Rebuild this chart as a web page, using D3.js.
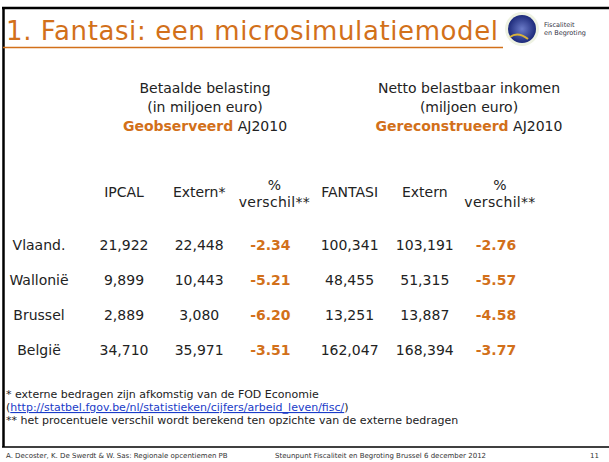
<!DOCTYPE html>
<html>
<head>
<meta charset="utf-8">
<title>Fantasi: een microsimulatiemodel</title>
<script src="https://cdn.jsdelivr.net/npm/d3@7"></script>
<style>
  body { margin: 0; background: #fff; }
  svg { display: block; font-family: "DejaVu Sans", Verdana, sans-serif; }
</style>
</head>
<body>
<svg width="609" height="462"></svg>
<script>
var regions = ["Vlaand.", "Wallonië", "Brussel", "België"]
var ipcal = [21922, 9899, 2889, 34710]
var externBel = [22448, 10443, 3080, 35971]
var verschilBel = [-2.34, -5.21, -6.20, -3.51]
var fantasi = [100341, 48455, 13251, 162047]
var externInk = [103191, 51315, 13887, 168394]
var verschilInk = [-2.76, -5.57, -4.58, -3.77]
var colLabels = ["IPCAL", "Extern*", "% verschil**", "FANTASI", "Extern", "% verschil**"]

var orange = "#d2701a"
  , ink = "#222"
  , svg = d3.select("svg")

// frame
svg.append("line").attr("x1", 2).attr("x2", 609).attr("y1", 8).attr("y2", 8)
  .attr("stroke", "#000").attr("stroke-width", 2.5)
svg.append("line").attr("x1", 3.5).attr("x2", 3.5).attr("y1", 7).attr("y2", 447)
  .attr("stroke", "#000").attr("stroke-width", 2.5)
svg.append("line").attr("x1", 2).attr("x2", 609).attr("y1", 447).attr("y2", 447)
  .attr("stroke", "#000").attr("stroke-width", 1.5)

svg.append("text").attr("x", 6).attr("y", 40)
  .attr("font-size", 26).attr("fill", orange)
  .attr("textLength", 492).attr("lengthAdjust", "spacing")
  .text("1. Fantasi: een microsimulatiemodel")
svg.append("line").attr("x1", 3).attr("x2", 503).attr("y1", 47.5).attr("y2", 47.5)
  .attr("stroke", orange).attr("stroke-width", 1.5)

// logo
var logo = svg.append("g").attr("transform", "translate(522,29)")
var grad = svg.append("defs").append("radialGradient").attr("id", "lg")
grad.append("stop").attr("offset", "0%").attr("stop-color", "#6b7bc8")
grad.append("stop").attr("offset", "100%").attr("stop-color", "#1d2a7a")
logo.append("circle").attr("r", 17).attr("fill", "#eef2e2")
logo.append("circle").attr("r", 14).attr("fill", "url(#lg)")
logo.append("path").attr("d", "M-12,8 Q-4,2 6,10").attr("stroke", "#d9b23a")
  .attr("stroke-width", 2).attr("fill", "none")
logo.append("text").attr("x", 22).attr("y", -2).attr("font-size", 6.5)
  .attr("fill", "#334").text("Fiscaliteit")
logo.append("text").attr("x", 22).attr("y", 6).attr("font-size", 6.5)
  .attr("fill", "#334").text("en Begroting")

// group headers
function header(cx, l1, l2, bold) {
  var g = svg.append("g").attr("text-anchor", "middle").attr("font-size", 14).attr("fill", ink)
  g.append("text").attr("x", cx).attr("y", 93).text(l1)
  g.append("text").attr("x", cx).attr("y", 112).text(l2)
  var t = g.append("text").attr("x", cx).attr("y", 131)
  t.append("tspan").attr("fill", orange).attr("font-weight", "bold").text(bold)
  t.append("tspan").text(" AJ2010")
}
header(205, "Betaalde belasting", "(in miljoen euro)", "Geobserveerd")
header(469, "Netto belastbaar inkomen", "(miljoen euro)", "Gereconstrueerd")

var x = d3.scalePoint().domain(d3.range(6)).range([124, 500])
var y = d3.scalePoint().domain(regions).range([250, 355])

var head = svg.append("g").attr("text-anchor", "middle").attr("font-size", 14).attr("fill", ink)
colLabels.forEach(function (c, i) {
  var parts = c.split(" ")
  if (parts.length == 1) {
    head.append("text").attr("x", x(i)).attr("y", 197).text(c)
  } else {
    head.append("text").attr("x", x(i)).attr("y", 190).text(parts[0])
    head.append("text").attr("x", x(i)).attr("y", 207).attr("letter-spacing", 0.3).text(parts[1])
  }
})

var cols = [ipcal, externBel, verschilBel, fantasi, externInk, verschilInk]
var loc = d3.formatLocale({ decimal: ".", thousands: ",", grouping: [3], currency: ["", ""], minus: "-" })
var fmtN = loc.format(",")
  , fmtP = loc.format(".2f")

var rows = svg.append("g").attr("font-size", 14).attr("text-anchor", "middle")
rows.selectAll(".lab").data(regions).enter().append("text")
  .attr("x", 39).attr("y", function (d) { return y(d) })
  .attr("fill", ink).text(function (d) { return d })

cols.forEach(function (col, i) {
  var pct = i == 2 || i == 5
  rows.selectAll(".c" + i).data(col).enter().append("text")
    .attr("x", x(i) - (pct ? 4 : 0))
    .attr("y", function (d, j) { return y(regions[j]) })
    .attr("fill", pct ? orange : ink)
    .attr("font-weight", pct ? "bold" : null)
    .text(function (d) { return pct ? fmtP(d) : fmtN(d) })
})

// footnotes
var notes = svg.append("g").attr("font-size", 11).attr("fill", ink)
notes.append("text").attr("x", 6).attr("y", 398).text("* externe bedragen zijn afkomstig van de FOD Economie")
var l2 = notes.append("text").attr("x", 6).attr("y", 411)
l2.append("tspan").text("(")
l2.append("tspan").attr("fill", "#1a3cc8").attr("text-decoration", "underline")
  .text("http://statbel.fgov.be/nl/statistieken/cijfers/arbeid_leven/fisc/")
l2.append("tspan").text(")")
notes.append("text").attr("x", 6).attr("y", 424)
  .text("** het procentuele verschil wordt berekend ten opzichte van de externe bedragen")

var foot = svg.append("g").attr("font-size", 7).attr("fill", "#333")
foot.append("text").attr("x", 6).attr("y", 458).text("A. Decoster, K. De Swerdt & W. Sas: Regionale opcentiemen PB")
foot.append("text").attr("x", 275).attr("y", 458).text("Steunpunt Fiscaliteit en Begroting Brussel 6 december 2012")
foot.append("text").attr("x", 590).attr("y", 458).text("11")
</script>
</body>
</html>
